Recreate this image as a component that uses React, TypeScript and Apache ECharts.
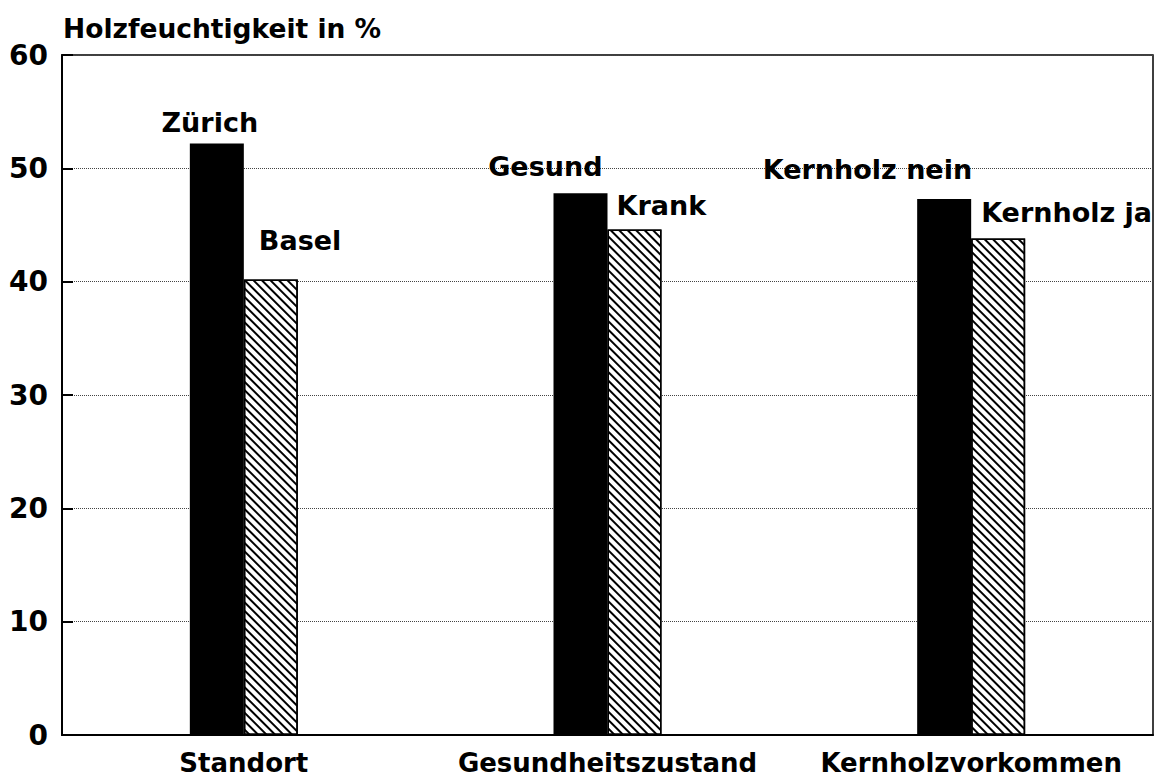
import React, { useEffect, useRef } from "react";
import * as echarts from "echarts";

const categories = ["Standort", "Gesundheitszustand", "Kernholzvorkommen"];
const blackValues = [52.2, 47.8, 47.3];
const hatchedValues = [40.2, 44.6, 43.8];
const blackLabels = ["Zürich", "Gesund", "Kernholz nein"];
const hatchedLabels = ["Basel", "Krank", "Kernholz ja"];
const yTicks = [0, 10, 20, 30, 40, 50, 60];

// label placement relative to the bar's top-left corner
const blackLabelPos: { pos: [number, number]; align: string }[] = [
  { pos: [20, -21], align: "center" },
  { pos: [49, -27], align: "right" },
  { pos: [55, -29], align: "right" },
];
const hatchedLabelPos: { pos: [number, number]; align: string }[] = [
  { pos: [15, -39], align: "left" },
  { pos: [9, -24], align: "left" },
  { pos: [10, -26], align: "left" },
];

const FONT = "DejaVu Sans";

export default function App() {
  const ref = useRef<HTMLDivElement>(null);
  useEffect(() => {
    if (!ref.current) return;
    const chart = echarts.init(ref.current, undefined, { renderer: "svg" });
    const labelStyle = {
      show: true,
      fontFamily: FONT,
      fontSize: 27,
      fontWeight: "bold",
      color: "#000",
      verticalAlign: "middle",
    };
    chart.setOption({
      animation: false,
      backgroundColor: "#fff",
      title: {
        text: "Holzfeuchtigkeit in %",
        left: 58,
        top: 10,
        textStyle: { fontFamily: FONT, fontSize: 26.5, fontWeight: "bold", color: "#000" },
      },
      grid: {
        left: 62,
        right: 4,
        top: 55,
        bottom: 46,
        show: true,
        borderColor: "#000",
        borderWidth: 1.5,
        backgroundColor: "transparent",
      },
      xAxis: {
        type: "category",
        data: categories,
        axisTick: { show: false },
        axisLine: { lineStyle: { color: "#000", width: 2 } },
        axisLabel: { fontFamily: FONT, fontSize: 26, fontWeight: "bold", color: "#000", margin: 15, interval: 0 },
      },
      yAxis: {
        type: "value",
        min: yTicks[0],
        max: yTicks[yTicks.length - 1],
        interval: 10,
        axisLine: { show: true, lineStyle: { color: "#000", width: 2 } },
        axisTick: { show: true, inside: true, length: 11, lineStyle: { color: "#000", width: 2 } },
        axisLabel: { fontFamily: FONT, fontSize: 28, fontWeight: "bold", color: "#000", margin: 14 },
        splitLine: { show: true, lineStyle: { type: [1, 1], color: "#444", width: 1 } },
      },
      series: [
        {
          type: "bar",
          name: "black",
          barWidth: 54,
          barGap: "0%",
          itemStyle: { color: "#000" },
          data: blackValues.map((v, i) => ({
            value: v,
            label: {
              ...labelStyle,
              position: blackLabelPos[i].pos,
              align: blackLabelPos[i].align,
              formatter: blackLabels[i],
            },
          })),
        },
        {
          type: "bar",
          name: "hatched",
          barWidth: 54,
          barGap: "0%",
          itemStyle: {
            color: "#fff",
            borderColor: "#000",
            borderWidth: 1.5,
            decal: {
              symbol: "rect",
              symbolSize: 1,
              color: "#000",
              dashArrayX: [1, 0],
              dashArrayY: [1.6, 3.4],
              rotation: Math.PI / 4,
            },
          },
          data: hatchedValues.map((v, i) => ({
            value: v,
            label: {
              ...labelStyle,
              position: hatchedLabelPos[i].pos,
              align: hatchedLabelPos[i].align,
              formatter: hatchedLabels[i],
            },
          })),
        },
      ],
    });
    return () => chart.dispose();
  }, []);
  return <div ref={ref} style={{ width: 1157, height: 781, position: "absolute", left: 0, top: 0 }} />;
}
